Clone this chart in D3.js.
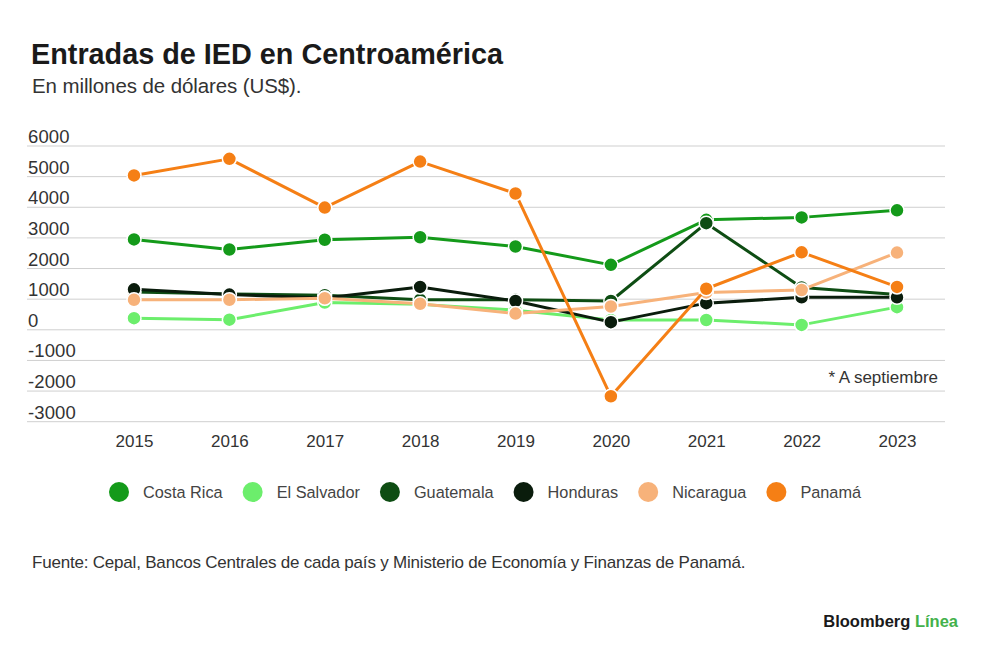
<!DOCTYPE html>
<html><head><meta charset="utf-8">
<script src="https://cdn.jsdelivr.net/npm/d3@7"></script>
<style>
html,body{margin:0;padding:0;background:#fff;}
svg{display:block;font-family:"Liberation Sans",Arial,sans-serif;}
</style></head>
<body>
<svg id="c" width="1000" height="664"></svg>
<script>
const years = ["2015","2016","2017","2018","2019","2020","2021","2022","2023"];
const yTicks = [-3000,-2000,-1000,0,1000,2000,3000,4000,5000,6000];
const seriesNames = ["Costa Rica","El Salvador","Guatemala","Honduras","Nicaragua","Panamá"];
const seriesColors = ["#149a1a","#6cee6c","#0e4d13","#0a1c0c","#f7b27a","#f57f15"];
const costaRica  = [2950, 2620, 2940, 3020, 2720, 2120, 3590, 3670, 3900];
const elSalvador = [380, 330, 890, 830, 640, 320, 320, 160, 740];
const guatemala  = [1230, 1170, 1130, 980, 980, 940, 3480, 1380, 1150];
const honduras   = [1320, 1150, 1040, 1400, 940, 250, 870, 1060, 1060];
const nicaragua  = [980, 980, 1030, 850, 530, 760, 1220, 1300, 2520];
const panama     = [5040, 5580, 3990, 5490, 4450, -2170, 1340, 2530, 1400];
const seriesValues = [costaRica, elSalvador, guatemala, honduras, nicaragua, panama];

const svg = d3.select("#c");
svg.append("rect").attr("width",1000).attr("height",664).attr("fill","#fff");

const x = d3.scalePoint().domain(years).range([134, 897]);
const y = d3.scaleLinear().domain([-3000, 6000]).range([421.7, 146]);

// Title
svg.append("text").attr("x",31).attr("y",63.5).attr("font-size",28.8).attr("font-weight","bold")
  .attr("letter-spacing","0").attr("fill","#1a1a1a").text("Entradas de IED en Centroamérica");
svg.append("text").attr("x",32).attr("y",93).attr("font-size",20.5).attr("letter-spacing","-0.1")
  .attr("fill","#333").text("En millones de dólares (US$).");

// Grid + y labels
const grid = svg.append("g");
grid.selectAll("line").data(yTicks).join("line")
  .attr("x1",27).attr("x2",945).attr("y1",d=>y(d)).attr("y2",d=>y(d))
  .attr("stroke","#cfcfcf").attr("stroke-width",1);
grid.selectAll("text").data(yTicks).join("text")
  .attr("x",28).attr("y",d=>y(d)-3).attr("font-size",18.5).attr("letter-spacing","0.1")
  .attr("fill","#333").text(d=>d);

// X labels
const xAxis = d3.axisBottom(x).tickSize(0).tickPadding(0);
const gx = svg.append("g").attr("transform","translate(0,431)").call(xAxis);
gx.select(".domain").remove();
gx.selectAll("text").attr("font-size",17).attr("font-family","Liberation Sans, Arial, sans-serif")
  .attr("letter-spacing","0").attr("fill","#333").attr("dy","0.95em");

svg.append("text").attr("x",938).attr("y",383).attr("text-anchor","end").attr("font-size",17)
  .attr("letter-spacing","0").attr("fill","#333").text("* A septiembre");

// Series
const line = d3.line().x((d,i)=>x(years[i])).y(d=>y(d));
seriesNames.forEach((name, si) => {
  const g = svg.append("g");
  g.append("path").datum(seriesValues[si]).attr("d", line).attr("fill","none")
    .attr("stroke", seriesColors[si]).attr("stroke-width",3).attr("stroke-linejoin","round");
  g.selectAll("circle").data(seriesValues[si]).join("circle")
    .attr("cx",(d,i)=>x(years[i])).attr("cy",d=>y(d)).attr("r",7)
    .attr("fill",seriesColors[si]).attr("stroke","#fff").attr("stroke-width",1.5);
});

// Legend
const leg = svg.append("g");
let lx = 119;
seriesNames.forEach((name, si) => {
  leg.append("circle").attr("cx",lx).attr("cy",492).attr("r",10).attr("fill",seriesColors[si]);
  const t = leg.append("text").attr("x",lx+24).attr("y",498).attr("font-size",16.3)
    .attr("letter-spacing","0").attr("fill","#444").text(name);
  const w = t.node().getComputedTextLength();
  lx = lx + 24 + w + 30;
});

// Footer
svg.append("text").attr("x",32).attr("y",568).attr("font-size",17).attr("letter-spacing","-0.2")
  .attr("fill","#333").text("Fuente: Cepal, Bancos Centrales de cada país y Ministerio de Economía y Finanzas de Panamá.");

const logo = svg.append("text").attr("x",958).attr("y",627).attr("text-anchor","end")
  .attr("font-size",16.5).attr("font-weight","bold");
logo.append("tspan").attr("fill","#1a1a1a").text("Bloomberg ");
logo.append("tspan").attr("fill","#43b14b").text("Línea");
</script>
</body></html>
